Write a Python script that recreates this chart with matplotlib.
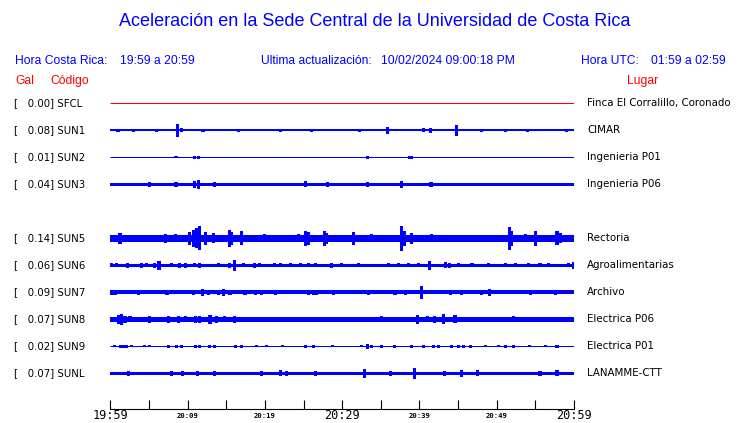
import matplotlib
matplotlib.use("Agg")
import matplotlib.pyplot as plt

W, H = 740, 423

# ---------------- data ----------------
codes = ["SFCL", "SUN1", "SUN2", "SUN3", "SUN5", "SUN6", "SUN7", "SUN8", "SUN9", "SUNL"]
gal = [0.00, 0.08, 0.01, 0.04, 0.14, 0.06, 0.09, 0.07, 0.02, 0.07]
places = ["Finca El Corralillo, Coronado", "CIMAR", "Ingenieria P01", "Ingenieria P06",
          "Rectoria", "Agroalimentarias", "Archivo", "Electrica P06", "Electrica P01",
          "LANAMME-CTT"]
# background (noise) half-amplitude of each trace, in trace units
base_amp = [0.0, 1.0, 0.0, 1.8, 3.4, 1.7, 2.0, 2.5, 0.0, 1.8]

# bursts: minutes after 19:59 and half-amplitude
sfcl_t = []
sfcl_a = []
sun1_t = [1.0, 3.0, 6.0, 8.7, 9.2, 12.0, 16.6, 22.0, 26.0, 32.3, 35.9, 40.5, 41.4,
          44.8, 48.0, 51.1, 54.0, 59.0]
sun1_a = [1.6, 1.6, 1.6, 6.3, 2.0, 1.6, 1.8, 1.6, 1.6, 1.8, 3.5, 2.0, 2.5,
          5.7, 1.6, 1.8, 1.6, 1.6]
sun2_t = [8.5, 10.9, 11.4, 33.3, 38.7, 39.0]
sun2_a = [1.0, 1.5, 1.5, 1.5, 1.5, 1.5]
sun3_t = [5.1, 8.5, 10.9, 11.4, 13.5, 25.2, 28.1, 33.3, 37.7, 41.5]
sun3_a = [2.5, 2.5, 3.5, 4.5, 2.2, 3.0, 2.2, 2.2, 3.7, 2.2]
sun5_t = [0.18, 1.26, 1.9, 3.6, 4.9, 7.1, 8.4, 10.3, 10.75, 11.2, 11.5, 12.3, 13.3,
          15.4, 15.7, 17.0, 20.0, 22.6, 24.3, 25.2, 25.6, 27.7, 28.0, 31.5, 33.8,
          37.7, 38.1, 39.0, 41.6, 44.6, 51.6, 51.9, 53.7, 55.0, 57.8, 58.2, 59.5]
sun5_a = [3.3, 5.3, 3.5, 3.3, 3.8, 4.5, 4.0, 6.3, 8.7, 10.0, 12.0, 6.3, 5.0,
          8.5, 6.7, 7.0, 4.0, 3.5, 4.0, 7.8, 6.3, 7.2, 5.5, 6.5, 4.0,
          12.5, 7.8, 5.8, 4.0, 3.5, 11.7, 7.8, 4.0, 7.3, 7.0, 5.0, 3.8]
sun6_t = [0.2, 0.8, 2.2, 4.0, 4.7, 5.7, 6.3, 7.9, 8.9, 9.7, 10.9, 11.6, 14.0, 15.4,
          16.1, 17.2, 18.7, 19.3, 21.3, 22.0, 23.3, 24.6, 25.6, 26.5, 28.6, 29.9,
          32.1, 33.8, 36.0, 37.3, 38.6, 39.9, 41.3, 43.4, 43.9, 45.0, 46.8, 48.9,
          51.1, 52.4, 54.1, 55.6, 56.7, 59.3, 59.9]
sun6_a = [2.0, 2.0, 2.5, 2.5, 2.0, 2.5, 4.5, 2.0, 2.5, 2.5, 2.0, 2.5, 2.0, 2.5,
          5.5, 2.0, 2.5, 2.0, 2.0, 2.0, 2.0, 2.0, 2.0, 2.0, 2.2, 2.0,
          2.0, 1.7, 2.0, 2.0, 2.0, 2.0, 4.5, 3.0, 2.5, 2.0, 2.0, 2.0,
          2.0, 2.0, 2.0, 2.0, 2.0, 2.0, 3.5]
sun7_t = [0.18, 0.61, 1.69, 2.55, 3.63, 4.92, 5.78, 7.34, 8.59, 9.67, 10.75, 11.95,
          12.69, 13.98, 14.63, 15.49, 17.43, 18.73, 19.59, 21.32, 22.61, 23.69,
          25.63, 26.28, 26.71, 27.79, 28.91, 30.38, 31.45, 33.39, 34.69, 36.84,
          38.14, 39.43, 40.25, 41.81, 42.89, 43.97, 45.48, 46.77, 48.07, 49.05,
          50.22, 51.51, 52.81, 54.32, 55.83, 57.56, 59.28]
sun7_a = [2.5, 2.5, 2.0, 2.0, 2.8, 2.0, 2.0, 2.8, 2.0, 2.0, 2.2, 3.8,
          2.5, 2.8, 3.2, 2.3, 2.3, 2.5, 2.3, 2.5, 2.0, 2.0,
          2.5, 2.8, 2.3, 2.0, 2.8, 2.0, 2.0, 2.2, 2.0, 2.2,
          2.2, 2.0, 6.8, 2.0, 2.0, 2.3, 2.2, 2.0, 2.2, 3.5,
          2.0, 2.0, 2.0, 2.2, 2.0, 2.8, 2.0]
sun8_t = [0.4, 1.04, 1.5, 1.9, 2.55, 5.1, 6.2, 7.5, 8.8, 9.7, 11.0, 11.6, 12.9, 13.8,
          14.8, 16.1, 17.4, 20.2, 23.9, 26.5, 29.1, 32.5, 35.1, 38.1, 39.7, 41.0,
          42.0, 43.1, 44.6, 48.9, 52.2, 57.6]
sun8_a = [2.5, 4.5, 5.8, 3.8, 3.0, 3.3, 2.5, 3.2, 3.3, 3.0, 3.2, 3.5, 4.2, 3.5,
          3.0, 3.3, 2.5, 2.5, 2.5, 2.5, 2.5, 2.5, 3.0, 2.5, 4.8, 3.0,
          3.2, 5.0, 4.0, 2.5, 3.0, 2.5]
sun9_t = [0.6, 1.3, 1.7, 2.1, 2.7, 4.4, 5.1, 7.5, 8.6, 9.2, 11.0, 11.5, 12.8, 13.5,
          16.2, 17.0, 18.9, 20.2, 22.3, 25.3, 26.3, 28.7, 32.5, 33.3, 33.8, 35.1,
          36.8, 39.0, 40.5, 41.8, 42.5, 44.2, 45.0, 45.7, 46.6, 48.5, 50.2, 51.1,
          52.2, 54.3, 56.3, 57.8]
sun9_a = [1.0, 1.3, 1.3, 1.3, 1.0, 1.0, 1.0, 1.3, 1.3, 1.3, 1.3, 1.3, 1.3, 1.3,
          1.3, 1.3, 1.0, 1.0, 1.0, 1.3, 1.3, 1.0, 1.0, 2.3, 1.3, 1.3,
          1.3, 1.3, 1.3, 1.3, 1.3, 1.3, 1.3, 1.3, 1.3, 1.0, 1.0, 1.3,
          1.3, 1.0, 1.0, 1.8]
sunl_t = [2.3, 7.9, 9.3, 11.3, 13.5, 19.6, 22.0, 22.8, 26.6, 32.9, 36.2, 39.4,
          43.3, 45.4, 47.5, 55.6, 57.8]
sunl_a = [2.5, 2.5, 2.5, 2.5, 2.5, 2.5, 3.0, 2.5, 2.5, 4.7, 2.5, 5.3,
          2.5, 3.5, 3.0, 2.5, 3.0]

burst_t = [sfcl_t, sun1_t, sun2_t, sun3_t, sun5_t, sun6_t, sun7_t, sun8_t, sun9_t, sunl_t]
burst_a = [sfcl_a, sun1_a, sun2_a, sun3_a, sun5_a, sun6_a, sun7_a, sun8_a, sun9_a, sunl_a]

tick_minutes = list(range(0, 61, 5))
label_minutes = [0, 10, 20, 30, 40, 50, 60]
label_texts = ["19:59", "20:09", "20:19", "20:29", "20:39", "20:49", "20:59"]
big_labels = ["19:59", "20:29", "20:59"]

# ---------------- layout / style ----------------
BLUE = "#0000FF"
RED = "#FF0000"
slots = [0, 1, 2, 3, 5, 6, 7, 8, 9, 10]
ROW0, ROWSTEP = 103.5, 27.0
AXIS_Y = 409.5
X0, X1 = 110.3, 574.0

fig = plt.figure(figsize=(W / 100, H / 100), dpi=100)
ax = fig.add_axes([X0 / W, 0, (X1 - X0) / W, 1])
ax.set_xlim(0, 60)
ax.set_ylim(H, 0)
ax.patch.set_alpha(0)
for s in ("top", "left", "right"):
    ax.spines[s].set_visible(False)
ax.spines["bottom"].set_position(("data", AXIS_Y))
ax.spines["bottom"].set_linewidth(0.8)
ax.yaxis.set_visible(False)
ax.set_xticks(tick_minutes)
ax.set_xticklabels([])
ax.tick_params(axis="x", direction="in", length=6.2, width=0.8, color="black")

for i, code in enumerate(codes):
    c = ROW0 + ROWSTEP * slots[i]
    col = RED if code == "SFCL" else BLUE
    ax.plot([0, 60], [c, c], color=col, lw=0.75, solid_capstyle="butt")
    b = base_amp[i]
    if b > 0:
        ax.fill_between([0, 60], [c - b, c - b], [c + b, c + b], color=col, lw=0)
    ts, amps = burst_t[i], burst_a[i]
    if ts:
        ax.bar(ts, [2 * a for a in amps], bottom=[c - a for a in amps],
               width=0.4, color=col, linewidth=0)


def P(x, y):
    return x / W, 1 - y / H


sans = "Liberation Sans"
fig.text(*P(375, 22), "Aceleración en la Sede Central de la Universidad de Costa Rica",
         color=BLUE, fontsize=13, family=sans, ha="center", va="center")
hdr = dict(color=BLUE, fontsize=8.7, family=sans, va="center")
fig.text(*P(15, 60.7), "Hora Costa Rica:", ha="left", **hdr)
fig.text(*P(120.4, 60.7), "19:59 a 20:59", ha="left", **hdr)
fig.text(*P(260.7, 60.7), "Ultima actualización:", ha="left", **hdr)
fig.text(*P(381.4, 60.7), "10/02/2024 09:00:18 PM", ha="left", **hdr)
fig.text(*P(581, 60.7), "Hora UTC:", ha="left", **hdr)
fig.text(*P(725.8, 60.7), "01:59 a 02:59", ha="right", **hdr)
red = dict(color=RED, fontsize=8.7, family=sans, va="center")
fig.text(*P(15, 80.7), "Gal", ha="left", **red)
fig.text(*P(50, 80.7), "Código", ha="left", **red)
fig.text(*P(627, 80.7), "Lugar", ha="left", **red)

for i, code in enumerate(codes):
    c = ROW0 + ROWSTEP * slots[i]
    fig.text(*P(14, c - 0.8), f"[   {gal[i]:.2f}] {code}", fontsize=7.3,
             family="DejaVu Sans", color="black", ha="left", va="center")
    fig.text(*P(587, c - 0.8), places[i], fontsize=7.4,
             family="DejaVu Sans", color="black", ha="left", va="center")

for m, lab in zip(label_minutes, label_texts):
    big = lab in big_labels
    ax.text(m, 415.5, lab, ha="center", va="center", clip_on=False,
            family="DejaVu Sans Mono", fontsize=8.6 if big else 5.2,
            fontweight="normal" if big else "bold", color="black")

fig.savefig("out.png", dpi=100)
